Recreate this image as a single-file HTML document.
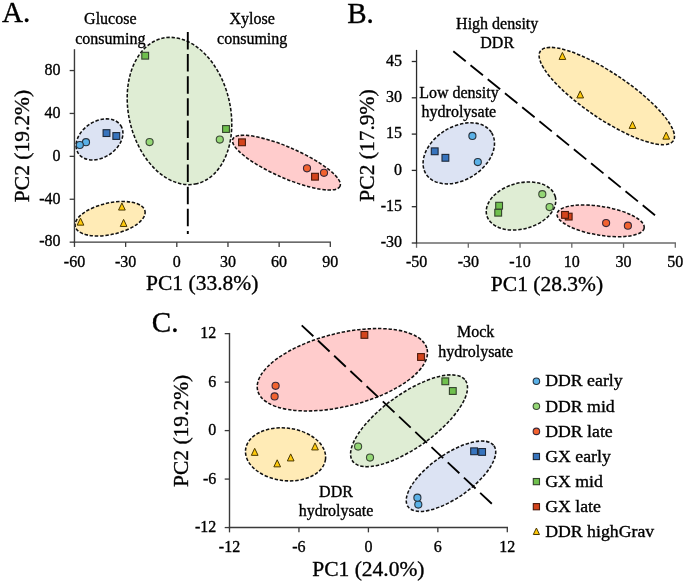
<!DOCTYPE html>
<html><head><meta charset="utf-8"><style>
html,body{margin:0;padding:0;background:#fff;}
svg{display:block;will-change:transform;}
text{font-family:"Liberation Serif",serif;fill:#000;stroke:#000;stroke-width:0.35px;}
</style></head><body>
<svg width="685" height="584" viewBox="0 0 685 584">
<ellipse cx="179.49" cy="111.01" rx="74.73" ry="50.74" transform="rotate(76.65 179.49 111.01)" fill="#DFEDD4" stroke="#111" stroke-width="1.55" stroke-dasharray="3.4 1.8"/>
<ellipse cx="99.49" cy="139.40" rx="25.39" ry="18.08" transform="rotate(-33.20 99.49 139.40)" fill="#DCE3F3" stroke="#111" stroke-width="1.55" stroke-dasharray="3.4 1.8"/>
<ellipse cx="286.41" cy="162.64" rx="58.57" ry="15.24" transform="rotate(23.72 286.41 162.64)" fill="#FFCCCC" stroke="#111" stroke-width="1.55" stroke-dasharray="3.4 1.8"/>
<ellipse cx="110.10" cy="218.73" rx="35.73" ry="15.76" transform="rotate(-12.60 110.10 218.73)" fill="#FFEBB6" stroke="#111" stroke-width="1.55" stroke-dasharray="3.4 1.8"/>
<line x1="74.46" y1="242.15" x2="74.46" y2="246.95" stroke="#3a3a3a" stroke-width="1.3"/>
<line x1="125.63" y1="242.15" x2="125.63" y2="246.95" stroke="#3a3a3a" stroke-width="1.3"/>
<line x1="176.80" y1="242.15" x2="176.80" y2="246.95" stroke="#3a3a3a" stroke-width="1.3"/>
<line x1="227.97" y1="242.15" x2="227.97" y2="246.95" stroke="#3a3a3a" stroke-width="1.3"/>
<line x1="279.14" y1="242.15" x2="279.14" y2="246.95" stroke="#3a3a3a" stroke-width="1.3"/>
<line x1="330.31" y1="242.15" x2="330.31" y2="246.95" stroke="#3a3a3a" stroke-width="1.3"/>
<line x1="69.66" y1="70.55" x2="74.46" y2="70.55" stroke="#3a3a3a" stroke-width="1.3"/>
<line x1="69.66" y1="113.45" x2="74.46" y2="113.45" stroke="#3a3a3a" stroke-width="1.3"/>
<line x1="69.66" y1="156.35" x2="74.46" y2="156.35" stroke="#3a3a3a" stroke-width="1.3"/>
<line x1="69.66" y1="199.25" x2="74.46" y2="199.25" stroke="#3a3a3a" stroke-width="1.3"/>
<line x1="69.66" y1="242.15" x2="74.46" y2="242.15" stroke="#3a3a3a" stroke-width="1.3"/>
<line x1="73.76" y1="242.15" x2="331.01" y2="242.15" stroke="#3a3a3a" stroke-width="1.4"/>
<line x1="74.46" y1="49.20" x2="74.46" y2="242.85" stroke="#3a3a3a" stroke-width="1.4"/>
<text x="74.5" y="266.5" font-size="16" text-anchor="middle" >-60</text>
<text x="125.6" y="266.5" font-size="16" text-anchor="middle" >-30</text>
<text x="176.8" y="266.5" font-size="16" text-anchor="middle" >0</text>
<text x="228.0" y="266.5" font-size="16" text-anchor="middle" >30</text>
<text x="279.1" y="266.5" font-size="16" text-anchor="middle" >60</text>
<text x="330.3" y="266.5" font-size="16" text-anchor="middle" >90</text>
<text x="60.6" y="74.8" font-size="16" text-anchor="end" >80</text>
<text x="60.6" y="117.7" font-size="16" text-anchor="end" >40</text>
<text x="60.6" y="160.7" font-size="16" text-anchor="end" >0</text>
<text x="60.6" y="203.6" font-size="16" text-anchor="end" >-40</text>
<text x="60.6" y="246.4" font-size="16" text-anchor="end" >-80</text>
<line x1="187.8" y1="32" x2="187.8" y2="234" stroke="#000" stroke-width="1.9" stroke-dasharray="17.5 4.6"/>
<rect x="141.80" y="52.30" width="6.80" height="6.80" fill="#6FC04D" stroke="#33422C" stroke-width="1.1"/>
<rect x="222.60" y="125.60" width="6.80" height="6.80" fill="#6FC04D" stroke="#33422C" stroke-width="1.1"/>
<circle cx="149.6" cy="142.1" r="3.55" fill="#94D775" stroke="#3C4A36" stroke-width="1.1"/>
<circle cx="219.8" cy="139.6" r="3.55" fill="#94D775" stroke="#3C4A36" stroke-width="1.1"/>
<circle cx="86" cy="142.2" r="3.55" fill="#5AB1E7" stroke="#27333F" stroke-width="1.1"/>
<circle cx="79.8" cy="145" r="3.55" fill="#5AB1E7" stroke="#27333F" stroke-width="1.1"/>
<rect x="103.10" y="129.70" width="6.80" height="6.80" fill="#3774BD" stroke="#1D2838" stroke-width="1.1"/>
<rect x="112.90" y="132.60" width="6.80" height="6.80" fill="#3774BD" stroke="#1D2838" stroke-width="1.1"/>
<rect x="238.60" y="138.90" width="6.80" height="6.80" fill="#D4441C" stroke="#4A1A0C" stroke-width="1.1"/>
<rect x="311.60" y="173.30" width="6.80" height="6.80" fill="#D4441C" stroke="#4A1A0C" stroke-width="1.1"/>
<circle cx="307" cy="168.3" r="3.55" fill="#F2622F" stroke="#3A2838" stroke-width="1.1"/>
<circle cx="324" cy="172.8" r="3.55" fill="#F2622F" stroke="#3A2838" stroke-width="1.1"/>
<path d="M80.50 218.10 L83.85 225.15 L77.15 225.15 Z" fill="#FFC90A" stroke="#4A3800" stroke-width="1"/>
<path d="M121.90 203.00 L125.25 210.05 L118.55 210.05 Z" fill="#FFC90A" stroke="#4A3800" stroke-width="1"/>
<path d="M123.60 219.40 L126.95 226.45 L120.25 226.45 Z" fill="#FFC90A" stroke="#4A3800" stroke-width="1"/>
<text x="110.3" y="24.0" font-size="16" text-anchor="middle" >Glucose</text>
<text x="110.3" y="43.7" font-size="16" text-anchor="middle" >consuming</text>
<text x="252.2" y="24.1" font-size="16" text-anchor="middle" >Xylose</text>
<text x="252.2" y="43.7" font-size="16" text-anchor="middle" >consuming</text>
<text x="202.2" y="290.0" font-size="21.5" text-anchor="middle" >PC1 (33.8%)</text>
<text x="0" y="0" font-size="21.5" text-anchor="middle" transform="translate(29 146) rotate(-90)">PC2 (19.2%)</text>
<text x="0" y="0" font-size="30" transform="translate(2.0 22.4) scale(0.97 1)">A.</text>
<ellipse cx="606.79" cy="96.03" rx="80.20" ry="22.82" transform="rotate(33.99 606.79 96.03)" fill="#FFEBB6" stroke="#111" stroke-width="1.55" stroke-dasharray="3.4 1.8"/>
<ellipse cx="458.79" cy="153.34" rx="38.76" ry="26.61" transform="rotate(-32.26 458.79 153.34)" fill="#DCE3F3" stroke="#111" stroke-width="1.55" stroke-dasharray="3.4 1.8"/>
<ellipse cx="521.02" cy="206.00" rx="35.51" ry="22.96" transform="rotate(-15.42 521.02 206.00)" fill="#DFEDD4" stroke="#111" stroke-width="1.55" stroke-dasharray="3.4 1.8"/>
<ellipse cx="600.61" cy="220.84" rx="44.15" ry="14.39" transform="rotate(9.34 600.61 220.84)" fill="#FFCCCC" stroke="#111" stroke-width="1.55" stroke-dasharray="3.4 1.8"/>
<line x1="416.55" y1="243.00" x2="416.55" y2="247.80" stroke="#6a6a6a" stroke-width="1.3"/>
<line x1="468.30" y1="243.00" x2="468.30" y2="247.80" stroke="#6a6a6a" stroke-width="1.3"/>
<line x1="520.05" y1="243.00" x2="520.05" y2="247.80" stroke="#6a6a6a" stroke-width="1.3"/>
<line x1="571.80" y1="243.00" x2="571.80" y2="247.80" stroke="#6a6a6a" stroke-width="1.3"/>
<line x1="623.55" y1="243.00" x2="623.55" y2="247.80" stroke="#6a6a6a" stroke-width="1.3"/>
<line x1="675.30" y1="243.00" x2="675.30" y2="247.80" stroke="#6a6a6a" stroke-width="1.3"/>
<line x1="411.75" y1="61.50" x2="416.55" y2="61.50" stroke="#2a2a2a" stroke-width="1.3"/>
<line x1="411.75" y1="97.80" x2="416.55" y2="97.80" stroke="#2a2a2a" stroke-width="1.3"/>
<line x1="411.75" y1="134.10" x2="416.55" y2="134.10" stroke="#2a2a2a" stroke-width="1.3"/>
<line x1="411.75" y1="170.40" x2="416.55" y2="170.40" stroke="#2a2a2a" stroke-width="1.3"/>
<line x1="411.75" y1="206.70" x2="416.55" y2="206.70" stroke="#2a2a2a" stroke-width="1.3"/>
<line x1="411.75" y1="243.00" x2="416.55" y2="243.00" stroke="#2a2a2a" stroke-width="1.3"/>
<line x1="415.85" y1="243.00" x2="676.00" y2="243.00" stroke="#6a6a6a" stroke-width="1.6"/>
<line x1="416.55" y1="49.90" x2="416.55" y2="243.70" stroke="#2a2a2a" stroke-width="1.3"/>
<text x="416.6" y="266.8" font-size="16" text-anchor="middle" >-50</text>
<text x="468.3" y="266.8" font-size="16" text-anchor="middle" >-30</text>
<text x="520.0" y="266.8" font-size="16" text-anchor="middle" >-10</text>
<text x="571.8" y="266.8" font-size="16" text-anchor="middle" >10</text>
<text x="623.5" y="266.8" font-size="16" text-anchor="middle" >30</text>
<text x="675.3" y="266.8" font-size="16" text-anchor="middle" >50</text>
<text x="402.0" y="65.8" font-size="16" text-anchor="end" >45</text>
<text x="402.0" y="102.1" font-size="16" text-anchor="end" >30</text>
<text x="402.0" y="138.4" font-size="16" text-anchor="end" >15</text>
<text x="402.0" y="174.7" font-size="16" text-anchor="end" >0</text>
<text x="402.0" y="211.0" font-size="16" text-anchor="end" >-15</text>
<text x="402.0" y="247.3" font-size="16" text-anchor="end" >-30</text>
<line x1="453.3" y1="51.2" x2="655" y2="215.3" stroke="#000" stroke-width="1.85" stroke-dasharray="16 6.2"/>
<path d="M562.40 52.40 L565.75 59.45 L559.05 59.45 Z" fill="#FFC90A" stroke="#4A3800" stroke-width="1"/>
<path d="M580.20 90.90 L583.55 97.95 L576.85 97.95 Z" fill="#FFC90A" stroke="#4A3800" stroke-width="1"/>
<path d="M632.50 121.40 L635.85 128.45 L629.15 128.45 Z" fill="#FFC90A" stroke="#4A3800" stroke-width="1"/>
<path d="M666.20 132.10 L669.55 139.15 L662.85 139.15 Z" fill="#FFC90A" stroke="#4A3800" stroke-width="1"/>
<circle cx="472.4" cy="135.9" r="3.55" fill="#5AB1E7" stroke="#27333F" stroke-width="1.1"/>
<circle cx="477.8" cy="162.1" r="3.55" fill="#5AB1E7" stroke="#27333F" stroke-width="1.1"/>
<rect x="431.30" y="147.90" width="6.80" height="6.80" fill="#3774BD" stroke="#1D2838" stroke-width="1.1"/>
<rect x="442.00" y="154.40" width="6.80" height="6.80" fill="#3774BD" stroke="#1D2838" stroke-width="1.1"/>
<rect x="494.80" y="209.30" width="6.80" height="6.80" fill="#6FC04D" stroke="#33422C" stroke-width="1.1"/>
<rect x="495.70" y="202.30" width="6.80" height="6.80" fill="#6FC04D" stroke="#33422C" stroke-width="1.1"/>
<circle cx="542.3" cy="194.2" r="3.55" fill="#94D775" stroke="#3C4A36" stroke-width="1.1"/>
<circle cx="549.6" cy="207.1" r="3.55" fill="#94D775" stroke="#3C4A36" stroke-width="1.1"/>
<rect x="565.30" y="213.20" width="6.80" height="6.80" fill="#D4441C" stroke="#4A1A0C" stroke-width="1.1"/>
<rect x="561.60" y="211.50" width="6.80" height="6.80" fill="#D4441C" stroke="#4A1A0C" stroke-width="1.1"/>
<circle cx="606.1" cy="223.1" r="3.55" fill="#F2622F" stroke="#3A2838" stroke-width="1.1"/>
<circle cx="627.9" cy="225.7" r="3.55" fill="#F2622F" stroke="#3A2838" stroke-width="1.1"/>
<text x="497.2" y="29.2" font-size="16" text-anchor="middle" >High density</text>
<text x="497.2" y="48.4" font-size="16" text-anchor="middle" >DDR</text>
<text x="458.9" y="97.9" font-size="16" text-anchor="middle" >Low density</text>
<text x="458.9" y="117.3" font-size="16" text-anchor="middle" >hydrolysate</text>
<text x="547.0" y="291.4" font-size="21.5" text-anchor="middle" >PC1 (28.3%)</text>
<text x="0" y="0" font-size="21.5" text-anchor="middle" transform="translate(374 145.5) rotate(-90)">PC2 (17.9%)</text>
<text x="0" y="0" font-size="30" transform="translate(347.2 22.6) scale(0.97 1)">B.</text>
<ellipse cx="342.35" cy="369.74" rx="87.21" ry="36.64" transform="rotate(-13.78 342.35 369.74)" fill="#FFCCCC" stroke="#111" stroke-width="1.55" stroke-dasharray="3.4 1.8"/>
<ellipse cx="409.03" cy="420.77" rx="69.36" ry="26.76" transform="rotate(-35.66 409.03 420.77)" fill="#DFEDD4" stroke="#111" stroke-width="1.55" stroke-dasharray="3.4 1.8"/>
<ellipse cx="450.98" cy="476.22" rx="52.65" ry="21.66" transform="rotate(-35.31 450.98 476.22)" fill="#DCE3F3" stroke="#111" stroke-width="1.55" stroke-dasharray="3.4 1.8"/>
<ellipse cx="285.56" cy="454.35" rx="40.24" ry="26.30" transform="rotate(6.97 285.56 454.35)" fill="#FFEBB6" stroke="#111" stroke-width="1.55" stroke-dasharray="3.4 1.8"/>
<line x1="229.50" y1="527.56" x2="229.50" y2="532.36" stroke="#3a3a3a" stroke-width="1.3"/>
<line x1="298.95" y1="527.56" x2="298.95" y2="532.36" stroke="#3a3a3a" stroke-width="1.3"/>
<line x1="368.40" y1="527.56" x2="368.40" y2="532.36" stroke="#3a3a3a" stroke-width="1.3"/>
<line x1="437.85" y1="527.56" x2="437.85" y2="532.36" stroke="#3a3a3a" stroke-width="1.3"/>
<line x1="507.30" y1="527.56" x2="507.30" y2="532.36" stroke="#3a3a3a" stroke-width="1.3"/>
<line x1="224.70" y1="333.64" x2="229.50" y2="333.64" stroke="#3a3a3a" stroke-width="1.3"/>
<line x1="224.70" y1="382.12" x2="229.50" y2="382.12" stroke="#3a3a3a" stroke-width="1.3"/>
<line x1="224.70" y1="430.60" x2="229.50" y2="430.60" stroke="#3a3a3a" stroke-width="1.3"/>
<line x1="224.70" y1="479.08" x2="229.50" y2="479.08" stroke="#3a3a3a" stroke-width="1.3"/>
<line x1="224.70" y1="527.56" x2="229.50" y2="527.56" stroke="#3a3a3a" stroke-width="1.3"/>
<line x1="228.80" y1="527.56" x2="508.00" y2="527.56" stroke="#3a3a3a" stroke-width="1.4"/>
<line x1="229.50" y1="332.94" x2="229.50" y2="528.26" stroke="#3a3a3a" stroke-width="1.4"/>
<text x="229.5" y="551.8" font-size="16" text-anchor="middle" >-12</text>
<text x="298.9" y="551.8" font-size="16" text-anchor="middle" >-6</text>
<text x="368.4" y="551.8" font-size="16" text-anchor="middle" >0</text>
<text x="437.8" y="551.8" font-size="16" text-anchor="middle" >6</text>
<text x="507.3" y="551.8" font-size="16" text-anchor="middle" >12</text>
<text x="216.3" y="338.4" font-size="16" text-anchor="end" >12</text>
<text x="216.3" y="386.9" font-size="16" text-anchor="end" >6</text>
<text x="216.3" y="435.4" font-size="16" text-anchor="end" >0</text>
<text x="216.3" y="483.9" font-size="16" text-anchor="end" >-6</text>
<text x="216.3" y="532.4" font-size="16" text-anchor="end" >-12</text>
<line x1="301.7" y1="325.3" x2="492.3" y2="504.2" stroke="#000" stroke-width="1.85" stroke-dasharray="16 6.25"/>
<rect x="361.00" y="331.50" width="6.80" height="6.80" fill="#D4441C" stroke="#4A1A0C" stroke-width="1.1"/>
<rect x="417.60" y="353.60" width="6.80" height="6.80" fill="#D4441C" stroke="#4A1A0C" stroke-width="1.1"/>
<circle cx="275.6" cy="385.8" r="3.55" fill="#F2622F" stroke="#3A2838" stroke-width="1.1"/>
<circle cx="274.6" cy="396.4" r="3.55" fill="#F2622F" stroke="#3A2838" stroke-width="1.1"/>
<rect x="441.90" y="377.90" width="6.80" height="6.80" fill="#6FC04D" stroke="#33422C" stroke-width="1.1"/>
<rect x="449.40" y="387.60" width="6.80" height="6.80" fill="#6FC04D" stroke="#33422C" stroke-width="1.1"/>
<circle cx="358.1" cy="446.6" r="3.55" fill="#94D775" stroke="#3C4A36" stroke-width="1.1"/>
<circle cx="370" cy="457.6" r="3.55" fill="#94D775" stroke="#3C4A36" stroke-width="1.1"/>
<rect x="470.70" y="447.90" width="6.80" height="6.80" fill="#3774BD" stroke="#1D2838" stroke-width="1.1"/>
<rect x="478.70" y="448.55" width="6.80" height="6.80" fill="#3774BD" stroke="#1D2838" stroke-width="1.1"/>
<circle cx="418.3" cy="504.6" r="3.55" fill="#5AB1E7" stroke="#27333F" stroke-width="1.1"/>
<circle cx="417.4" cy="497.7" r="3.55" fill="#5AB1E7" stroke="#27333F" stroke-width="1.1"/>
<path d="M254.70 448.30 L258.05 455.35 L251.35 455.35 Z" fill="#FFC90A" stroke="#4A3800" stroke-width="1"/>
<path d="M277.20 459.80 L280.55 466.85 L273.85 466.85 Z" fill="#FFC90A" stroke="#4A3800" stroke-width="1"/>
<path d="M290.70 453.90 L294.05 460.95 L287.35 460.95 Z" fill="#FFC90A" stroke="#4A3800" stroke-width="1"/>
<path d="M315.00 442.90 L318.35 449.95 L311.65 449.95 Z" fill="#FFC90A" stroke="#4A3800" stroke-width="1"/>
<text x="475.7" y="336.8" font-size="16" text-anchor="middle" >Mock</text>
<text x="475.7" y="356.7" font-size="16" text-anchor="middle" >hydrolysate</text>
<text x="336.0" y="496.6" font-size="16" text-anchor="middle" >DDR</text>
<text x="336.0" y="515.8" font-size="16" text-anchor="middle" >hydrolysate</text>
<text x="368.4" y="576.0" font-size="21.5" text-anchor="middle" >PC1 (24.0%)</text>
<text x="0" y="0" font-size="21.5" text-anchor="middle" transform="translate(188 430.9) rotate(-90)">PC2 (19.2%)</text>
<text x="0" y="0" font-size="30" transform="translate(151.8 332.4) scale(0.97 1)">C.</text>
<circle cx="536.4" cy="381.2" r="3.25" fill="#5AB1E7" stroke="#27333F" stroke-width="1.1"/>
<text x="0" y="0" font-size="17" transform="translate(545.2 386.40) scale(1.045 1)">DDR early</text>
<circle cx="536.4" cy="406.3" r="3.25" fill="#94D775" stroke="#3C4A36" stroke-width="1.1"/>
<text x="0" y="0" font-size="17" transform="translate(545.2 411.50) scale(1.045 1)">DDR mid</text>
<circle cx="536.4" cy="431.4" r="3.25" fill="#F2622F" stroke="#3A2838" stroke-width="1.1"/>
<text x="0" y="0" font-size="17" transform="translate(545.2 436.60) scale(1.045 1)">DDR late</text>
<rect x="533.30" y="453.40" width="6.20" height="6.20" fill="#3774BD" stroke="#1D2838" stroke-width="1.1"/>
<text x="0" y="0" font-size="17" transform="translate(545.2 461.70) scale(1.045 1)">GX early</text>
<rect x="533.30" y="478.50" width="6.20" height="6.20" fill="#6FC04D" stroke="#33422C" stroke-width="1.1"/>
<text x="0" y="0" font-size="17" transform="translate(545.2 486.80) scale(1.045 1)">GX mid</text>
<rect x="533.30" y="503.60" width="6.20" height="6.20" fill="#D4441C" stroke="#4A1A0C" stroke-width="1.1"/>
<text x="0" y="0" font-size="17" transform="translate(545.2 511.90) scale(1.045 1)">GX late</text>
<path d="M536.40 528.02 L539.49 534.52 L533.31 534.52 Z" fill="#FFC90A" stroke="#4A3800" stroke-width="1"/>
<text x="0" y="0" font-size="17" transform="translate(545.2 537.00) scale(1.045 1)">DDR highGrav</text>
</svg></body></html>
